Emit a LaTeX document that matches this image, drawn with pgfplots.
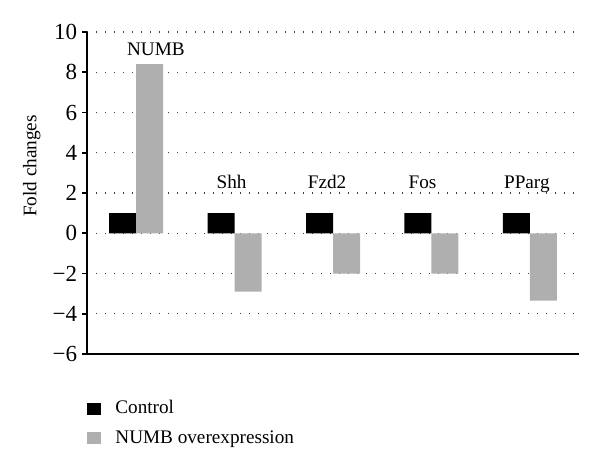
\documentclass[border=0pt]{standalone}
\usepackage{pgfplots}
\pgfplotsset{compat=1.18}
\usepackage{fontspec}
\setmainfont{Liberation Serif}
\definecolor{bargray}{RGB}{175,175,175}
\begin{document}
\fontsize{9.6}{11.5}\selectfont
\begin{tikzpicture}
\begin{axis}[
  scale only axis,
  width=246pt, height=161pt,
  ybar=0pt, bar width=13.5pt,
  xmin=-0.5, xmax=4.5,
  ymin=-6, ymax=10,
  ytick={-6,-4,...,10},
  yticklabels={−6,−4,−2,0,2,4,6,8,10},
  xtick=\empty,
  axis x line*=bottom, axis y line*=left,
  axis line style={-, black, line width=0.8pt},
  tick align=outside, major tick length=2.5pt,
  ytick style={black, line width=0.8pt},
  ymajorgrids,
  major grid style={black!75, line width=0.6pt, dash pattern=on 0.7pt off 3.8pt},
  ylabel={Fold changes},
  ylabel style={at={(axis description cs:-0.112,0.584)}, anchor=center},
  yticklabel style={font=\fontsize{11.5}{12}\selectfont, xshift=1pt},
  legend style={draw=none, at={(axis description cs:0.0,-0.118)}, anchor=north west,
    inner xsep=0pt, column sep=5pt,
    cells={anchor=west}, row sep=3pt, font=\fontsize{9.6}{11.5}\selectfont},
  clip=false,
]
\addplot[fill=black, draw=none, legend image code/.code={\fill[black] (0pt,-3pt) rectangle (7pt,3pt);}]
  coordinates {(0,1) (1,1) (2,1) (3,1) (4,1)};
\addplot[fill=bargray, draw=none, legend image code/.code={\fill[bargray] (0pt,-3pt) rectangle (7pt,3pt);}]
  coordinates {(0,8.4) (1,-2.9) (2,-2.0) (3,-2.0) (4,-3.35)};
\legend{Control, NUMB overexpression}
\node[anchor=base] at (axis cs:0.2,8.82) {NUMB};
\node[anchor=base] at (axis cs:0.97,2.2) {Shh};
\node[anchor=base] at (axis cs:1.94,2.2) {Fzd2};
\node[anchor=base] at (axis cs:2.91,2.2) {Fos};
\node[anchor=base] at (axis cs:3.97,2.2) {PParg};
\end{axis}
\path (current axis.south west) ++(-43.5pt,-56pt) coordinate (bbsw);
\path (current axis.north east) ++(10.5pt,16pt) coordinate (bbne);
\path (bbsw) rectangle (bbne);
\end{tikzpicture}
\end{document}
